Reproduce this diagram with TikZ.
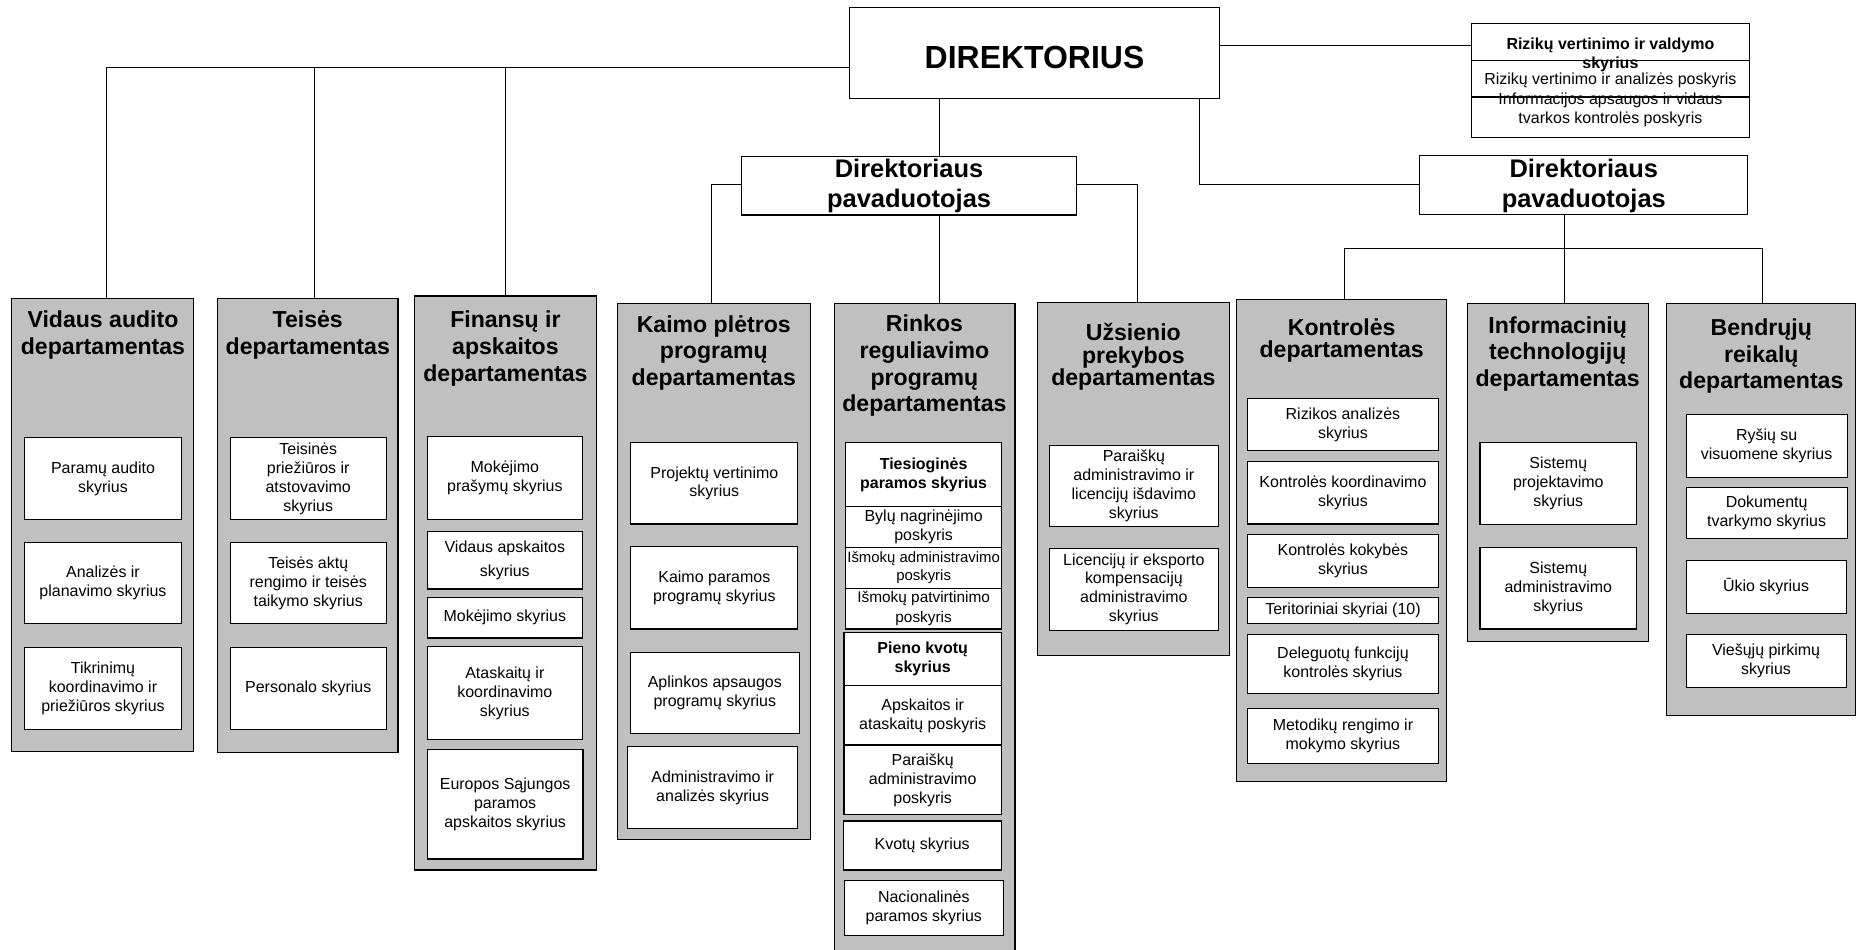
\documentclass[tikz,border=0pt]{standalone}
\usepackage{fontspec}
\setmainfont{Liberation Sans}
\definecolor{deptgray}{HTML}{C0C0C0}
\newcommand{\orgbox}[7][]{\node[#1, minimum width={#5-#3}, minimum height={#6-#4}] (#2) at ({(#3+#5)/2},{(#4+#6)/2}) {#7};}
\begin{document}
\begin{tikzpicture}[x=1pt,y=-1pt,
  dept/.style={draw=black, fill=deptgray, line width=1pt, inner sep=0pt},
  sub/.style={draw=black, fill=white, line width=0.9pt, inner sep=0pt, align=center, font=\fontsize{13.5}{16}\selectfont},
  subb/.style={sub, font=\bfseries\fontsize{13.5}{16}\selectfont},
  mainbox/.style={draw=black, fill=white, line width=1pt, inner sep=0pt, align=center},
  dtitle/.style={align=center, inner sep=0pt, font=\bfseries\fontsize{19.5}{22.5}\selectfont},
  dtitlet/.style={dtitle, font=\bfseries\fontsize{19.5}{18.8}\selectfont},
  ptitle/.style={align=center, inner sep=0pt, font=\bfseries\fontsize{21.5}{25}\selectfont},
  rtxt/.style={align=center, inner sep=0pt, font=\fontsize{13.5}{16}\selectfont},
  rtxtb/.style={rtxt, font=\bfseries\fontsize{13.5}{16}\selectfont},
  conn/.style={draw=black, line width=0.8pt}]
\useasboundingbox (0,0) rectangle (1568,802);

% ---------- top level ----------
\orgbox[mainbox]{dir}{718}{6}{1030}{83}{}
\node[inner sep=0pt, font=\bfseries\fontsize{27}{30}\selectfont] (dirt) at (874,49) {DIREKTORIUS};
\orgbox[mainbox]{pavA}{626.5}{132}{909.5}{181.6}{}
\node[ptitle] (pavAt) at (768,157) {Direktoriaus\\pavaduotojas};
\orgbox[mainbox]{pavB}{1199}{131.5}{1476.5}{181}{}
\node[ptitle] (pavBt) at (1338,157) {Direktoriaus\\pavaduotojas};

% risk box
\orgbox[mainbox]{rizA}{1243}{19.7}{1478}{51}{}
\orgbox[mainbox]{rizB}{1243}{51}{1478}{82}{}
\orgbox[mainbox]{rizC}{1243}{82}{1478}{116}{}
\node[rtxtb] (rizAt) at (1360.5,46) {Rizikų vertinimo ir valdymo\\skyrius};
\node[rtxt] (rizBt) at (1360.5,67.5) {Rizikų vertinimo ir analizės poskyris};
\node[rtxt] (rizCt) at (1360.5,93) {Informacijos apsaugos ir vidaus\\tvarkos kontrolės poskyris};

% ---------- departments ----------
\orgbox[dept]{vid}{10}{252}{163.7}{635}{}
\orgbox[dept]{tei}{184}{252}{336.3}{635.6}{}
\orgbox[dept]{fin}{350.4}{250}{504}{735}{}
\orgbox[dept]{kai}{521.5}{256.3}{685}{709}{}
\orgbox[dept]{rin}{704.8}{256.3}{857.5}{806}{}
\orgbox[dept]{uzs}{876.3}{255.7}{1038.5}{554}{}
\orgbox[dept]{kon}{1044.7}{252.8}{1222.2}{660.4}{}
\orgbox[dept]{inf}{1239.6}{256.3}{1393}{542.1}{}
\orgbox[dept]{ben}{1408}{256.3}{1567.6}{604.6}{}

\node[dtitle] (vidT) at (87,283) {Vidaus audito\\departamentas};
\node[dtitle] (teiT) at (260,283) {Teisės\\departamentas};
\node[dtitle] (finT) at (427,294.5) {Finansų ir\\apskaitos\\departamentas};
\node[dtitle] (kaiT) at (603,298) {Kaimo plėtros\\programų\\departamentas};
\node[dtitle] (rinT) at (781,309) {Rinkos\\reguliavimo\\programų\\departamentas};
\node[dtitlet] (uzsT) at (957.5,301.5) {Užsienio\\prekybos\\departamentas};
\node[dtitlet] (konT) at (1133.5,287.5) {Kontrolės\\departamentas};
\node[dtitle] (infT) at (1316,299) {Informacinių\\technologijų\\departamentas};
\node[dtitle] (benT) at (1488,301) {Bendrųjų\\reikalų\\departamentas};

% ---------- Vidaus audito ----------
\orgbox[sub]{v1}{21}{370}{153}{439}{Paramų audito\\skyrius}
\orgbox[sub]{v2}{21}{458.5}{153}{527}{Analizės ir\\planavimo skyrius}
\orgbox[sub]{v3}{21}{547}{153}{616}{Tikrinimų\\koordinavimo ir\\priežiūros skyrius}

% ---------- Teisės ----------
\orgbox[sub]{t1}{194.4}{370}{326.4}{439}{Teisinės\\priežiūros ir\\atstovavimo\\skyrius}
\orgbox[sub]{t2}{194.4}{458.5}{326.4}{527}{Teisės aktų\\rengimo ir teisės\\taikymo skyrius}
\orgbox[sub]{t3}{194.4}{547}{326.4}{616}{Personalo skyrius}

% ---------- Finansų ----------
\orgbox[sub]{f1}{361}{369}{492}{438.6}{Mokėjimo\\prašymų skyrius}
\orgbox[sub, font=\fontsize{13.5}{20}\selectfont]{f2}{361}{449}{492}{497.6}{Vidaus apskaitos\\skyrius}
\orgbox[sub]{f3}{361}{504.5}{492}{539}{Mokėjimo skyrius}
\orgbox[sub]{f4}{361}{546}{492}{625}{Ataskaitų ir\\koordinavimo\\skyrius}
\orgbox[sub]{f5}{361}{632.8}{492.5}{725.7}{Europos Sąjungos\\paramos\\apskaitos skyrius}

% ---------- Kaimo ----------
\orgbox[sub]{k1}{533}{374}{674}{442.7}{Projektų vertinimo\\skyrius}
\orgbox[sub]{k2}{533}{462}{674}{531.4}{Kaimo paramos\\programų skyrius}
\orgbox[sub]{k3}{532.5}{551}{675.3}{619.8}{Aplinkos apsaugos\\programų skyrius}
\orgbox[sub]{k4}{530.5}{631}{673.6}{700}{Administravimo ir\\analizės skyrius}

% ---------- Rinkos ----------
\orgbox[subb]{r1}{714.4}{374}{846.2}{428}{Tiesioginės\\paramos skyrius}
\orgbox[sub]{r2}{714.4}{428}{846.2}{462.4}{Bylų nagrinėjimo\\poskyris}
\orgbox[sub, font=\fontsize{12.6}{15}\selectfont]{r3}{714.4}{462.4}{846.2}{497}{Išmokų administravimo\\poskyris}
\orgbox[sub, font=\fontsize{13}{17}\selectfont]{r4}{714.4}{497}{846.2}{531.4}{Išmokų patvirtinimo\\poskyris}
\orgbox[subb]{r5}{713}{534.5}{846}{579.5}{Pieno kvotų\\skyrius}
\orgbox[sub]{r6}{713}{579.5}{846}{629.4}{Apskaitos ir\\ataskaitų poskyris}
\orgbox[sub]{r7}{713}{629.4}{846}{688.5}{Paraiškų\\administravimo\\poskyris}
\orgbox[sub]{r8}{712.5}{693.6}{845.7}{735}{Kvotų skyrius}
\orgbox[sub]{r9}{713.3}{744}{847.6}{790.7}{Nacionalinės\\paramos skyrius}

% ---------- Užsienio ----------
\orgbox[sub]{u1}{886.5}{376.5}{1029.3}{444.7}{Paraiškų\\administravimo ir\\licencijų išdavimo\\skyrius}
\orgbox[sub]{u2}{886.5}{463.2}{1029.3}{532.5}{Licencijų ir eksporto\\kompensacijų\\administravimo\\skyrius}

% ---------- Kontrolės ----------
\orgbox[sub]{c1}{1054}{337}{1215.1}{380.2}{Rizikos analizės\\skyrius}
\orgbox[sub]{c2}{1054}{390}{1215.1}{442.7}{Kontrolės koordinavimo\\skyrius}
\orgbox[sub]{c3}{1054}{451.4}{1215.1}{496.2}{Kontrolės kokybės\\skyrius}
\orgbox[sub]{c4}{1054}{505}{1215.1}{526.6}{Teritoriniai skyriai (10)}
\orgbox[sub]{c5}{1054}{535.9}{1215.1}{585.7}{Deleguotų funkcijų\\kontrolės skyrius}
\orgbox[sub]{c6}{1054}{598.4}{1215.1}{644.9}{Metodikų rengimo ir\\mokymo skyrius}

% ---------- Informacinių ----------
\orgbox[sub]{i1}{1250.3}{374}{1382.7}{443}{Sistemų\\projektavimo\\skyrius}
\orgbox[sub]{i2}{1250.3}{462.4}{1382.7}{531.4}{Sistemų\\administravimo\\skyrius}

% ---------- Bendrųjų ----------
\orgbox[sub]{b1}{1424.4}{349.8}{1560.6}{403.3}{Ryšių su\\visuomene skyrius}
\orgbox[sub]{b2}{1424.4}{411.7}{1560.6}{454.8}{Dokumentų\\tvarkymo skyrius}
\orgbox[sub]{b3}{1424.4}{473.7}{1559.6}{518.2}{Ūkio skyrius}
\orgbox[sub]{b4}{1424.4}{535.9}{1559.6}{580.7}{Viešųjų pirkimų\\skyrius}

% ---------- connectors ----------
\coordinate (busL) at (90,57);
\coordinate (jTei) at (266,57);
\coordinate (jFin) at (427,57);
\coordinate (xA) at (794,0);
\coordinate (yP) at (0,156);
\coordinate (xKai) at (601,0);
\coordinate (xUzs) at (961,0);
\coordinate (xD2) at (1013,0);
\coordinate (xB) at (1321.5,0);
\coordinate (yB) at (0,209.8);
\coordinate (xKon) at (1135.5,0);
\coordinate (xBen) at (1489,0);
\coordinate (yR) at (0,38);

\draw[conn] (dir.west |- busL) -- (busL) -- (vid.north -| busL);
\draw[conn] (jTei) -- (tei.north -| jTei);
\draw[conn] (jFin) -- (fin.north -| jFin);
\draw[conn] (dir.south -| xA) -- (pavA.north -| xA);
\draw[conn] (pavA.south -| xA) -- (rin.north -| xA);
\draw[conn] (pavA.west |- yP) -| (kai.north -| xKai);
\draw[conn] (pavA.east |- yP) -| (uzs.north -| xUzs);
\draw[conn] (dir.south -| xD2) |- (pavB.west |- yP);
\draw[conn] (pavB.south -| xB) -- (inf.north -| xB);
\draw[conn] (kon.north -| xKon) -- (xKon |- yB) -- (xBen |- yB) -- (ben.north -| xBen);
\draw[conn] (dir.east |- yR) -- (rizA.west |- yR);
\end{tikzpicture}
\end{document}
